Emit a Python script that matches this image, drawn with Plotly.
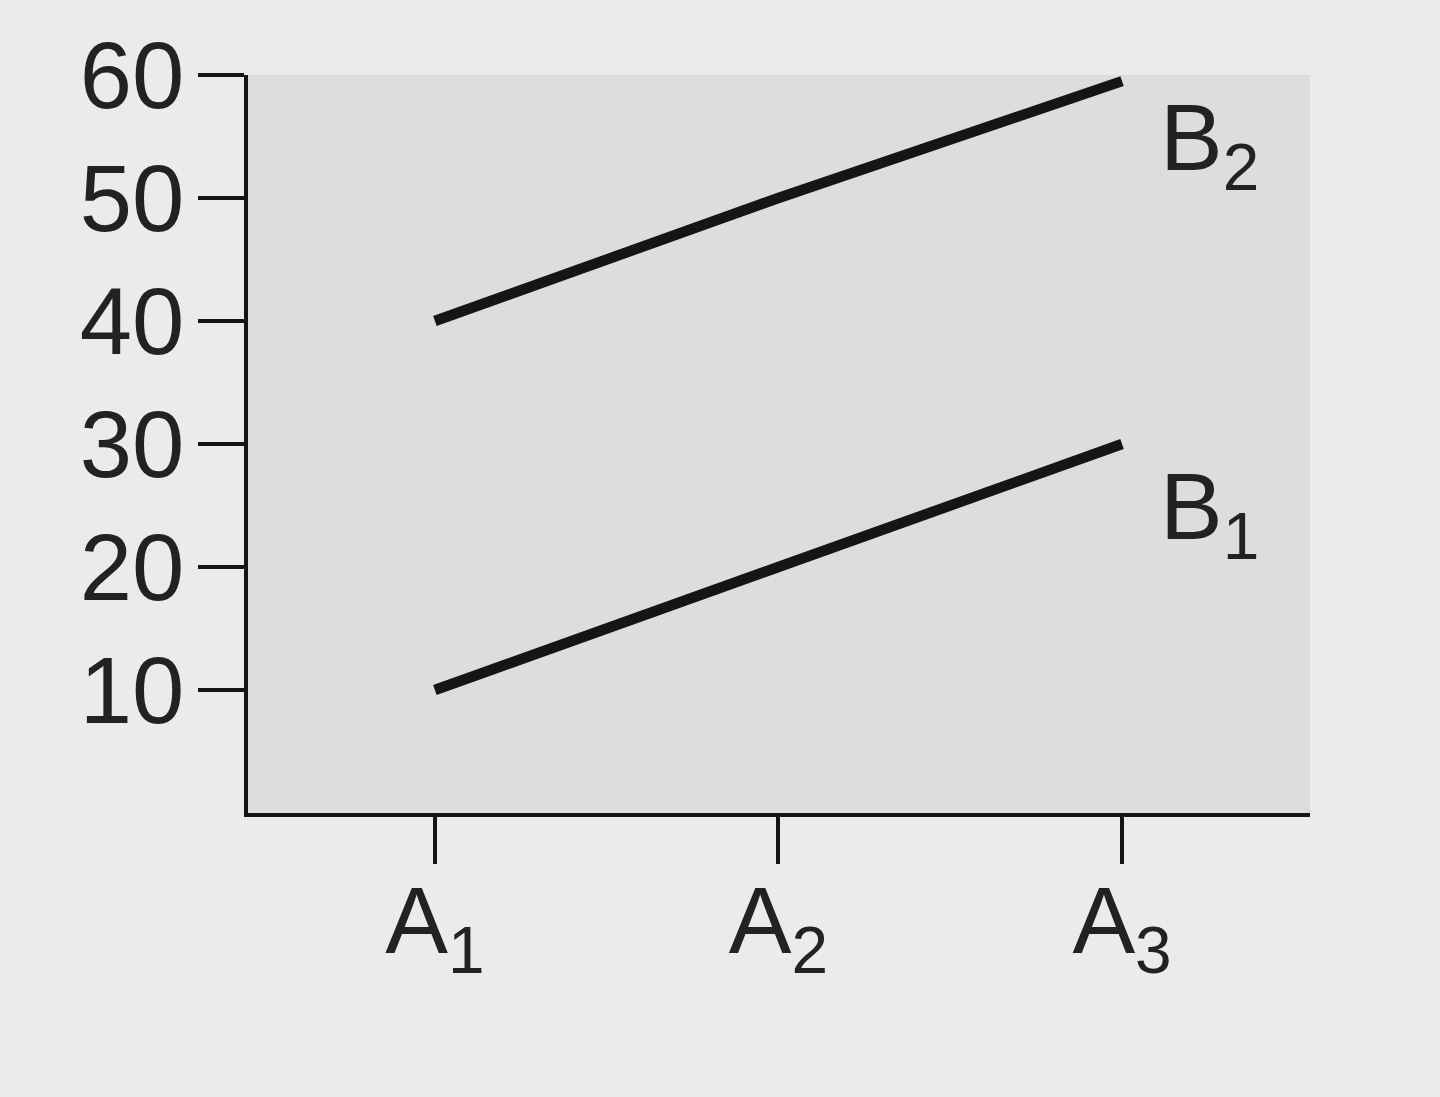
import plotly.graph_objects as go

# categories of factor A and the two levels of factor B
categories = ["A1", "A2", "A3"]
tick_labels = ["A<sub>1</sub>", "A<sub>2</sub>", "A<sub>3</sub>"]
b1_values = [10, 20, 30]
b2_values = [40, 50, 59.5]
series_names = ["B<sub>1</sub>", "B<sub>2</sub>"]

ink = "#151515"
font = dict(family="Liberation Sans, Arial, sans-serif", size=94, color="#222222")

fig = go.Figure()
for vals in (b1_values, b2_values):
    fig.add_trace(go.Scatter(x=categories, y=vals, mode="lines",
                             line=dict(color=ink, width=10.5), showlegend=False,
                             hoverinfo="skip"))

# labels at the right end of each line
for name, label_y in zip(series_names, (30, 60)):
    fig.add_annotation(x=categories[-1], y=label_y, text=name, showarrow=False,
                       xanchor="left", yanchor="top", xshift=36, yshift=-8,
                       font=font)

fig.update_layout(
    width=1440, height=1097,
    margin=dict(l=248, r=130, t=75, b=284),
    paper_bgcolor="#ebebeb",
    plot_bgcolor="#dddddf",
    font=font,
)
fig.update_xaxes(type="category", range=[-0.544, 2.547],
                 tickvals=categories, ticktext=tick_labels,
                 showgrid=False, zeroline=False,
                 showline=True, linecolor=ink, linewidth=4,
                 ticks="outside", ticklen=47, tickwidth=3.5, tickcolor=ink,
                 ticklabelstandoff=-24)
fig.update_yaxes(range=[0, 60], tickvals=[10, 20, 30, 40, 50, 60],
                 showgrid=False, zeroline=False,
                 showline=True, linecolor=ink, linewidth=4,
                 ticks="outside", ticklen=46, tickwidth=3.5, tickcolor=ink,
                 ticklabelstandoff=-5)

# drop the page margin so the figure fills the window
fig.write_html("out.html", config={"displayModeBar": False},
               post_script="document.body.style.margin='0';"
                           "document.body.style.background='#ebebeb';")
